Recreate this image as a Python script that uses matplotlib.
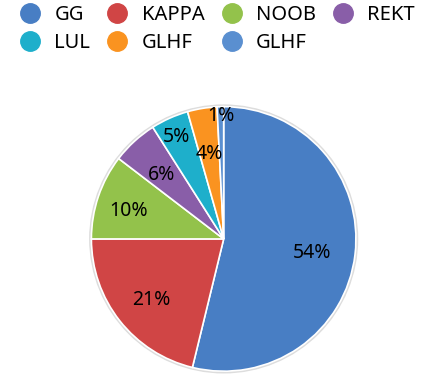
import matplotlib
matplotlib.use("Agg")
import matplotlib.pyplot as plt
from matplotlib.lines import Line2D
import numpy as np

plt.rcParams['font.family'] = ['Noto Sans', 'DejaVu Sans']

labels = ["GG", "KAPPA", "NOOB", "REKT", "LUL", "GLHF", "GLHF"]
values = [53.8, 21.2, 10.4, 5.6, 4.6, 3.6, 0.8]
colors = ["#487ec4", "#d04545", "#93c24b", "#895ea8", "#1eafcb", "#fa9320", "#5a8fd0"]
label_dist = [0.67, 0.70, 0.76, 0.70, 0.88, 0.68, 0.96]

fig = plt.figure(figsize=(4.46, 3.86), dpi=100)
ax = fig.add_axes([0.199, 0.031, 0.605, 0.70])

# faint shadow ring
ax.add_patch(plt.Circle((0, 0), 1.012, color="#dddddd", zorder=0))

wedges, texts, autotexts = ax.pie(values, colors=colors, startangle=90, counterclock=False,
                                  autopct="%.0f%%", pctdistance=0.7,
                                  wedgeprops=dict(edgecolor="white", linewidth=1.2),
                                  textprops=dict(fontsize=14, color="black"))
for w, t, d in zip(wedges, autotexts, label_dist):
    ang = np.deg2rad((w.theta1 + w.theta2) / 2)
    t.set_position((d * np.cos(ang), d * np.sin(ang) - 0.03))
ax.set_xlim(-1.02, 1.02)
ax.set_ylim(-1.02, 1.02)
ax.set_aspect("equal")

order = [0, 4, 1, 5, 2, 6, 3]
handles = [Line2D([], [], marker="o", linestyle="none", markersize=14,
                  markerfacecolor=colors[i], markeredgecolor=colors[i]) for i in order]
fig.legend(handles, [labels[i] for i in order], ncol=4, loc="upper left",
           bbox_to_anchor=(0.0, 1.035), frameon=False, fontsize=14.5,
           handletextpad=0.6, columnspacing=0.75, labelspacing=0.4, handlelength=1.2)

fig.savefig("out.png", dpi=100)
